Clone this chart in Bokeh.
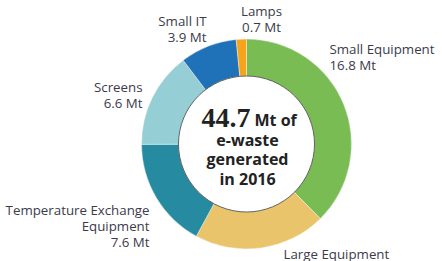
import math
from bokeh.plotting import figure
from bokeh.models import Range1d
from bokeh.core.properties import value
from bokeh.embed import file_html
from bokeh.resources import INLINE

# ---- data ----
categories = ["Small Equipment", "Large Equipment", "Temperature Exchange Equipment",
              "Screens", "Small IT", "Lamps"]
values_mt = [16.8, 9.1, 7.6, 6.6, 3.9, 0.7]
colors = ["#78BC53", "#EAC46B", "#268AA0", "#95CFD5", "#1F71B8", "#F6A41E"]
total_label = "44.7"
center_lines = ["e-waste", "generated", "in 2016"]

W, H = 442, 261
CX, CY = 246, H - 143.5
R_OUT, R_IN = 105, 68

p = figure(width=W, height=H, output_backend="svg", toolbar_location=None,
           x_range=Range1d(0, W), y_range=Range1d(0, H), min_border=0)
p.axis.visible = False
p.grid.visible = False
p.outline_line_color = None
p.background_fill_color = "white"

total = sum(values_mt)
cum = 0.0
starts, ends = [], []
for v in values_mt:
    a0 = math.pi / 2 - 2 * math.pi * cum / total
    cum += v
    a1 = math.pi / 2 - 2 * math.pi * cum / total
    starts.append(a1)
    ends.append(a0)

p.annular_wedge(x=CX, y=CY, inner_radius=R_IN, outer_radius=R_OUT,
                start_angle=starts, end_angle=ends, fill_color=colors,
                line_color="white", line_width=0.4)
p.circle(x=CX, y=CY, radius=R_IN, fill_color="white", line_color="#3a3a3a", line_width=0.8)

FONT = value("Open Sans")
TXT = "#3b3b4a"

# label layout: (x, first-line y from top, align, lines)
layout = {
    "Small Equipment": (329, 48, "left", ["Small Equipment"]),
    "Large Equipment": (283, 253, "left", ["Large Equipment"]),
    "Temperature Exchange Equipment": (149, 209, "right", ["Temperature Exchange", "Equipment"]),
    "Screens": (142, 86, "right", ["Screens"]),
    "Small IT": (206, 20, "right", ["Small IT"]),
    "Lamps": (261, 10, "center", ["Lamps"]),
}
for cat, v in zip(categories, values_mt):
    x, y0, align, lines = layout[cat]
    lines = list(lines)
    if cat != "Large Equipment":
        lines.append(f"{v} Mt")
    for i, t in enumerate(lines):
        p.text(x=[x], y=[H - (y0 + 16 * i)], text=[t], text_font=FONT,
               text_font_size="13.3px", text_color=TXT, text_align=align,
               text_baseline="middle")

# center text
p.text(x=[250], y=[H - 117], text=[total_label], text_font=value("Liberation Sans Narrow"),
       text_font_size="28px", text_font_style="bold", text_color="#222222",
       text_align="right", text_baseline="middle")
p.text(x=[254], y=[H - 119], text=["Mt of"], text_font=FONT,
       text_font_size="16px", text_font_style="bold", text_color="#222222",
       text_align="left", text_baseline="middle")
for i, t in enumerate(center_lines):
    p.text(x=[CX + 1], y=[H - (139 + 19.5 * i)], text=[t], text_font=FONT,
           text_font_size="16px", text_font_style="bold", text_color="#222222",
           text_align="center", text_baseline="middle")

open("out.html", "w").write(file_html(p, INLINE))
